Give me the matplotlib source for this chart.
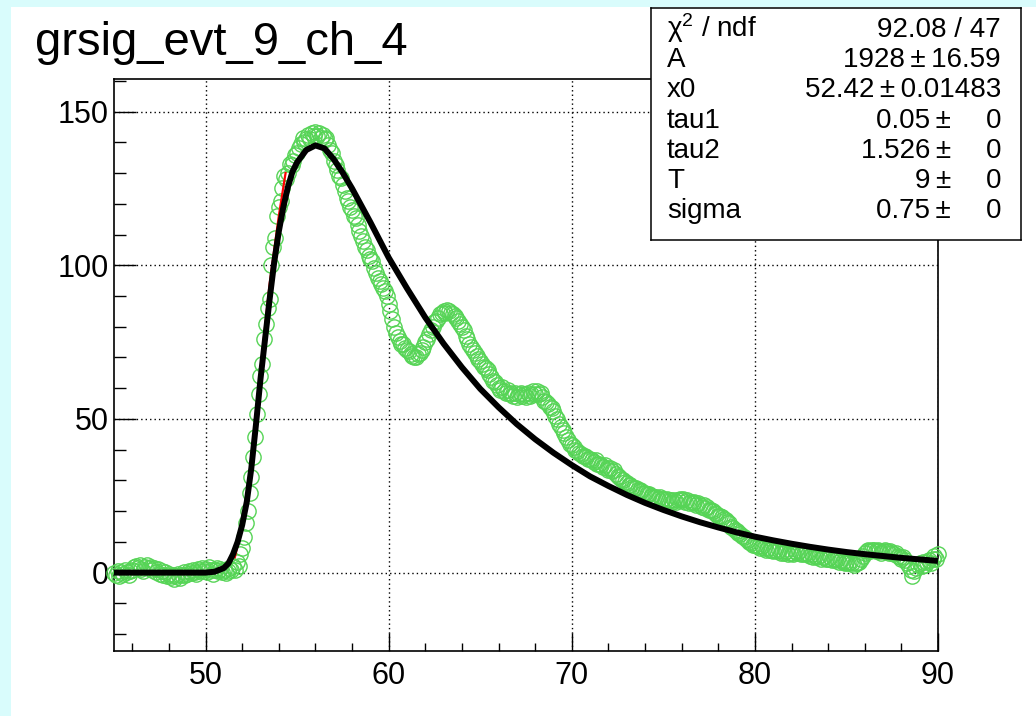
import numpy as np
import matplotlib
matplotlib.use("Agg")
import matplotlib.pyplot as plt
from matplotlib.ticker import MultipleLocator
from matplotlib.patches import Rectangle

plt.rcParams['font.family'] = ['Liberation Sans', 'DejaVu Sans']
plt.rcParams['mathtext.fontset'] = 'custom'
plt.rcParams['mathtext.rm'] = 'Liberation Sans'
plt.rcParams['mathtext.it'] = 'Liberation Sans:italic'

title = "grsig_evt_9_ch_4"

# ---- data (green open circles), x from 45 to 90 in steps of 0.1 ----
x_start, x_stop, x_step = 45.0, 90.0, 0.1
y_data = [
    # 45.0 - 45.9
    0.0, -0.8, 0.5, -1.2, 0.3, -0.5, 0.8, 0.2, -0.9, 0.4,
    # 46.0 - 46.9
    1.0, 1.8, 2.2, 1.5, 2.4, 1.2, 0.6, 1.9, 2.5, 1.4,
    # 47.0 - 47.9
    1.7, 0.8, 1.5, 0.2, 1.1, -0.4, 0.6, -0.8, 0.3, -1.2,
    # 48.0 - 48.9
    -0.6, -1.5, -0.9, -2.0, -1.1, -0.3, -1.6, -0.8, 0.2, -0.9,
    # 49.0 - 49.9
    -0.4, 0.5, -0.2, 0.8, 0.3, -0.5, 1.2, 0.6, 1.5, 0.4,
    # 50.0 - 50.9
    1.1, 0.2, 1.8, 0.7, -0.3, 0.9, 1.6, 0.4, 1.3, 0.2,
    # 51.0 - 51.9
    0.8, -0.2, 0.6, 1.4, 0.9, 2.0, 1.0, 3.5, 2.0, 6.0,
    # 52.0 - 52.9
    8.0, 11.5, 16.0, 20.0, 26.0, 31.0, 37.5, 44.0, 51.5, 58.0,
    # 53.0 - 53.9
    64.0, 68.0, 76.0, 81.0, 86.0, 89.0, 100.0, 106.0, 109.0, 116.0,
    # 54.0 - 54.9
    119.0, 121.0, 125.0, 129.0, 128.0, 130.0, 133.0, 132.5, 134.0, 136.0,
    # 55.0 - 55.9
    136.5, 138.0, 139.5, 141.5, 140.0, 141.0, 142.5, 141.0, 143.0, 142.0,
    # 56.0 - 56.9
    143.5, 142.0, 143.0, 141.5, 142.5, 141.0, 141.5, 139.0, 137.5, 136.5,
    # 57.0 - 57.9
    134.0, 132.5, 131.0, 129.0, 128.5, 126.0, 124.0, 122.0, 121.0, 119.0,
    # 58.0 - 58.9
    118.0, 116.0, 115.5, 113.0, 111.0, 109.5, 108.0, 106.0, 105.0, 103.0,
    # 59.0 - 59.9
    102.0, 101.5, 99.0, 97.5, 96.0, 95.0, 94.0, 92.5, 91.5, 90.0,
    # 60.0 - 60.9
    87.5, 85.0, 82.5, 80.0, 78.0, 76.5, 75.5, 74.5, 74.5, 73.0,
    # 61.0 - 61.9
    72.5, 72.0, 71.0, 70.5, 70.0, 70.2, 71.0, 71.5, 72.5, 73.5,
    # 62.0 - 62.9
    75.0, 76.0, 77.5, 79.0, 80.0, 81.5, 82.0, 83.0, 84.0, 84.5,
    # 63.0 - 63.9
    85.0, 84.5, 85.5, 85.0, 84.5, 84.0, 83.5, 83.0, 82.0, 81.0,
    # 64.0 - 64.9
    80.0, 79.0, 77.0, 76.0, 74.5, 73.5, 72.5, 71.5, 70.5, 69.5,
    # 65.0 - 65.9
    69.0, 68.0, 67.0, 66.5, 66.0, 64.5, 63.5, 62.5, 62.0, 61.0,
    # 66.0 - 66.9
    60.0, 59.5, 60.5, 59.0, 58.5, 59.5, 58.0, 58.5, 57.5, 58.5,
    # 67.0 - 67.9
    57.0, 58.0, 58.5, 57.5, 58.0, 57.0, 58.5, 57.5, 58.0, 59.0,
    # 68.0 - 68.9
    58.0, 59.0, 58.0, 58.5, 57.0, 56.0, 55.5, 55.0, 54.0, 53.5,
    # 69.0 - 69.9
    52.5, 51.0, 50.0, 48.5, 47.5, 46.5, 45.5, 44.0, 43.0, 42.0,
    # 70.0 - 70.9
    41.5, 41.0, 40.0, 39.5, 39.0, 38.5, 38.0, 38.0, 37.5, 37.0,
    # 71.0 - 71.9
    37.0, 36.5, 36.0, 36.5, 35.5, 35.5, 35.0, 34.5, 35.0, 34.0,
    # 72.0 - 72.9
    33.5, 34.0, 33.0, 33.5, 32.0, 31.5, 31.0, 30.5, 30.0, 29.5,
    # 73.0 - 73.9
    29.0, 28.5, 28.5, 28.0, 27.5, 27.5, 27.0, 27.0, 26.5, 26.0,
    # 74.0 - 74.9
    26.0, 25.5, 25.5, 25.0, 25.0, 24.5, 24.5, 24.0, 24.5, 24.0,
    # 75.0 - 75.9
    24.0, 23.5, 24.0, 23.5, 23.5, 23.0, 23.5, 23.0, 23.5, 24.0,
    # 76.0 - 76.9
    23.5, 24.0, 23.0, 23.5, 22.5, 23.0, 22.5, 23.0, 22.0, 22.5,
    # 77.0 - 77.9
    22.0, 21.5, 22.0, 21.0, 21.5, 20.5, 20.5, 20.0, 19.5, 19.0,
    # 78.0 - 78.9
    18.5, 18.5, 18.0, 17.5, 17.0, 16.5, 16.0, 15.0, 14.5, 14.0,
    # 79.0 - 79.9
    13.5, 13.0, 12.5, 12.0, 11.5, 11.0, 10.5, 10.0, 9.5, 9.0,
    # 80.0 - 80.9
    9.0, 8.5, 8.5, 8.0, 8.5, 8.0, 7.5, 8.0, 7.5, 7.5,
    # 81.0 - 81.9
    7.0, 7.5, 7.0, 7.5, 6.5, 7.0, 6.5, 7.0, 6.0, 6.5,
    # 82.0 - 82.9
    6.5, 6.0, 7.0, 6.5, 7.0, 6.0, 6.5, 6.0, 6.5, 6.0,
    # 83.0 - 83.9
    5.5, 6.0, 5.0, 5.5, 5.0, 5.5, 4.5, 5.0, 5.0, 4.5,
    # 84.0 - 84.9
    4.5, 5.0, 4.0, 4.5, 4.0, 4.5, 3.5, 4.0, 3.5, 3.0,
    # 85.0 - 85.9
    3.5, 3.0, 3.5, 3.0, 2.5, 3.0, 3.0, 3.5, 4.5, 5.5,
    # 86.0 - 86.9
    6.5, 7.0, 7.5, 7.0, 7.5, 7.5, 7.0, 7.5, 7.0, 6.5,
    # 87.0 - 87.9
    7.0, 7.5, 7.0, 6.5, 7.0, 6.5, 6.0, 6.5, 5.5, 5.0,
    # 88.0 - 88.9
    4.5, 5.0, 4.0, 3.0, 2.0, 1.0, -1.0, 0.5, 1.5, 2.5,
    # 89.0 - 89.9
    3.0, 2.0, 3.5, 2.5, 3.5, 4.0, 3.0, 4.5, 5.5, 4.5,
    # 90.0
    6.0,
]

# ---- fit function (black) ----
fit_x = [45, 46, 47, 48, 49, 50, 50.5, 51, 51.25, 51.5, 51.75, 52, 52.25, 52.5,
         52.75, 53, 53.25, 53.5, 53.75, 54, 54.25, 54.5, 54.75, 55, 55.5, 56,
         56.5, 57, 57.5, 58, 59, 60, 61, 62, 63, 64, 65, 66, 67, 68, 69, 70,
         71, 72, 73, 74, 75, 76, 77, 78, 79, 80, 81, 82, 83, 84, 85, 86, 87,
         88, 89, 90]
fit_y = [0, 0, 0, 0, 0, 0, 0.3, 1.5, 3, 6, 10, 15.5, 23, 34,
         48, 63, 76, 89, 101, 111, 119, 125.5, 130.5, 133.5, 137.5, 139,
         138, 134.5, 130, 125, 114, 102.5, 92.5, 83, 74.5, 66.8, 59.8, 53.8, 48.3, 43.4, 39, 35,
         31.3, 28.2, 25.3, 22.7, 20.4, 18.3, 16.4, 14.7, 13.1, 11.7, 10.5, 9.4, 8.4, 7.5, 6.7, 6.0, 5.4,
         4.8, 4.3, 3.8]

# ---- rising-edge fit (red) ----
red_x = [51.6, 52.0, 52.5, 53.0, 53.5, 54.0, 54.37]
red_y = [5, 15, 36, 66, 94, 116, 130]

# ---- statistics box ----
stat_labels = [r"χ$^{2}$ / ndf", "A", "x0", "tau1", "tau2", "T", "sigma"]
stat_values = ["92.08 / 47", "1928\u2009±\u200916.59", "52.42\u2009±\u20090.01483",
               "0.05\u2009±", "1.526\u2009±", "9\u2009±", "0.75\u2009±"]
stat_errors = ["", "", "", "0", "0", "0", "0"]

x_ticks = [50, 60, 70, 80, 90]
y_ticks = [0, 50, 100, 150]

W, H = 1036, 716
fig = plt.figure(figsize=(W / 100, H / 100), dpi=100)
fig.patch.set_facecolor('#d9fcfc')
fig.patches.append(Rectangle((11 / W, 0), 1 - 11 / W, 1 - 7 / H,
                             transform=fig.transFigure, facecolor='white',
                             edgecolor='none', zorder=-5))

ax = fig.add_axes([114 / W, 1 - 651 / H, (938 - 114) / W, (651 - 79) / H])
ax.set_zorder(1)
ax.set_facecolor('white')
ax.set_xlim(45, 90)
ax.set_ylim(-25.5, 160.6)

x_data = np.round(np.arange(x_start, x_stop + x_step / 2, x_step), 2)
ax.plot(x_data, y_data, linestyle='none', marker='o', markersize=11,
        markerfacecolor='none', markeredgecolor='#56d456', markeredgewidth=1.0,
        clip_on=False, zorder=3)
ax.plot(red_x, red_y, color='#ff0000', lw=1.6, zorder=4)
ax.plot(fit_x, fit_y, color='black', lw=4.3, zorder=5, solid_capstyle='butt')

ax.grid(True, which='major', color='black', linestyle=(0, (1, 2.2)), lw=1.0)
ax.set_axisbelow(True)
ax.xaxis.set_major_locator(MultipleLocator(10))
ax.xaxis.set_minor_locator(MultipleLocator(2))
ax.yaxis.set_major_locator(MultipleLocator(50))
ax.yaxis.set_minor_locator(MultipleLocator(10))
ax.set_xticks(x_ticks)
ax.set_yticks(y_ticks)
ax.tick_params(axis='both', which='both', direction='in', top=False, right=False,
               labelsize=22, width=1.0, color='black')
ax.tick_params(axis='y', which='major', length=16, pad=4)
ax.tick_params(axis='y', which='minor', length=8.5)
ax.tick_params(axis='x', which='major', length=13, pad=7)
ax.tick_params(axis='x', which='minor', length=6)
for s in ax.spines.values():
    s.set_linewidth(1.2)
    s.set_color('black')

fig.text(35 / W, 1 - 55 / H, title, fontsize=34, va='baseline', ha='left')

# stats box (drawn in its own overlay axes above the plot)
sax = fig.add_axes([651 / W, 1 - 240 / H, (1021 - 651) / W, (240 - 8) / H])
sax.set_zorder(5)
sax.set_xticks([])
sax.set_yticks([])
sax.set_facecolor('white')
for s in sax.spines.values():
    s.set_linewidth(1.1)
    s.set_color('black')
for i, (lab, val, err) in enumerate(zip(stat_labels, stat_values, stat_errors)):
    yb = 1 - (37 + 30.2 * i) / H
    fig.text(667 / W, yb, lab, fontsize=20, va='baseline', ha='left', zorder=11)
    if err:
        fig.text(951 / W, yb, val, fontsize=20, va='baseline', ha='right', zorder=11)
        fig.text(1001 / W, yb, err, fontsize=20, va='baseline', ha='right', zorder=11)
    else:
        fig.text(1001 / W, yb, val, fontsize=20, va='baseline', ha='right', zorder=11)

fig.savefig('out.png', dpi=100, facecolor=fig.get_facecolor())
